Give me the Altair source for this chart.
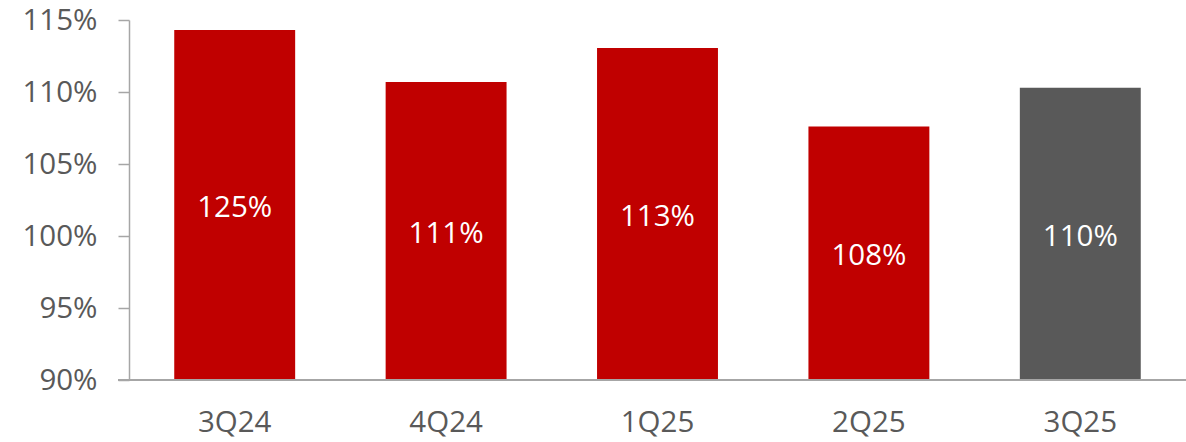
import altair as alt
import pandas as pd

quarters = ["3Q24", "4Q24", "1Q25", "2Q25", "3Q25"]
bar_values = [114.3, 110.7, 113.05, 107.6, 110.3]
bar_labels = ["125%", "111%", "113%", "108%", "110%"]
bar_colors = ["#C00000", "#C00000", "#C00000", "#C00000", "#595959"]
y_ticks = [90, 95, 100, 105, 110, 115]

df = pd.DataFrame({
    "quarter": quarters,
    "value": bar_values,
    "label": bar_labels,
    "color": bar_colors,
})

FONT = "Open Sans"
FS = 29.5
W, H = 1057, 360

x_enc = alt.X(
    "quarter:N",
    sort=quarters,
    scale=alt.Scale(paddingInner=0.428, paddingOuter=0.214),
    axis=alt.Axis(
        title=None, domain=False, ticks=False, labelAngle=0,
        labelFont=FONT, labelFontSize=FS, labelColor="#595959",
        labelPadding=28,
    ),
)
y_scale = alt.Scale(domain=[90, 115], nice=False, zero=False, clamp=True)

bars = alt.Chart(df).mark_bar().encode(
    x=x_enc,
    y=alt.Y(
        "value:Q", scale=y_scale,
        axis=alt.Axis(
            title=None, values=y_ticks, grid=False,
            labelExpr="datum.value + '%'",
            labelFont=FONT, labelFontSize=FS, labelColor="#595959",
            domainColor="#A6A6A6", domainWidth=1.5,
            tickColor="#A6A6A6", tickWidth=1.5, tickSize=11,
            labelPadding=21,
        ),
    ),
    y2=alt.datum(90),
    color=alt.Color("color:N", scale=None),
)

text = alt.Chart(df).transform_calculate(
    mid="(datum.value + 90) / 2"
).mark_text(
    font=FONT, fontSize=FS, color="white", baseline="middle", align="center", dy=3
).encode(
    x=alt.X("quarter:N", sort=quarters),
    y=alt.Y("mid:Q", scale=y_scale),
    text="label:N",
)

baseline = alt.Chart(df).mark_rule(color="#A6A6A6", strokeWidth=2).encode(
    x=alt.value(-11), x2=alt.value(W), y=alt.value(H)
)

chart = alt.layer(bars, text, baseline).properties(
    width=W, height=H,
    autosize=alt.AutoSizeParams(type="none"),
    padding={"left": 129, "top": 20, "right": 0, "bottom": 62},
).configure_view(stroke=None)

chart.save("out.html", embed_options={"renderer": "svg", "actions": False})
